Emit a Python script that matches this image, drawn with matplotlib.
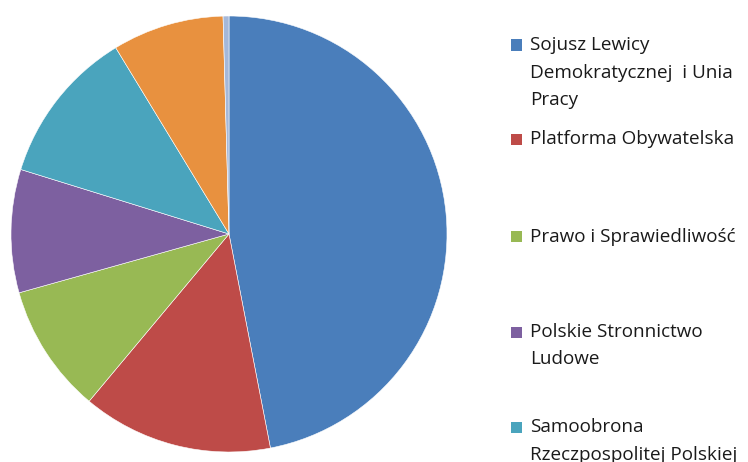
import matplotlib
matplotlib.use("Agg")
import matplotlib.pyplot as plt
from matplotlib.patches import Rectangle

# Data (seats)
parties = [
    "Sojusz Lewicy\nDemokratycznej  i Unia\nPracy",
    "Platforma Obywatelska",
    "Prawo i Sprawiedliwość",
    "Polskie Stronnictwo\nLudowe",
    "Samoobrona\nRzeczpospolitej Polskiej",
    "Liga Polskich Rodzin",
    "Mniejszość Niemiecka",
]
seats = [216, 65, 44, 42, 53, 38, 2]
colors = ["#4A7EBB", "#BE4B48", "#98B954", "#7D60A0", "#4AA4BD", "#E8913F", "#A5B8D9"]

W, H = 748, 462
fig = plt.figure(figsize=(W / 100, H / 100), dpi=100)
fig.patch.set_facecolor("white")

cx, cy, r = 229, 234, 218
ax = fig.add_axes([(cx - r) / W, (H - cy - r) / H, 2 * r / W, 2 * r / H])
ax.pie(seats, colors=colors, startangle=90, counterclock=False, radius=1,
       wedgeprops=dict(linewidth=0.4, edgecolor="white"))
ax.set_xlim(-1, 1)
ax.set_ylim(-1, 1)
ax.set_aspect("equal")
ax.axis("off")

# Legend drawn manually (Excel-style, clipped at bottom)
entry_tops = [45, 139, 237, 332, 427, 522, 617]
line_gap = 27.5
sq = 11
for lbl, col, y0 in zip(parties, colors, entry_tops):
    fig.patches.append(Rectangle((511 / W, 1 - (y0 + sq / 2) / H), sq / W, sq / H,
                                 transform=fig.transFigure, facecolor=col,
                                 edgecolor="none"))
    for i, line in enumerate(lbl.split("\n")):
        y = y0 + i * line_gap
        fig.text(530 / W, 1 - y / H, line, ha="left", va="center",
                 fontsize=13.6, family=["Open Sans", "DejaVu Sans"], color="#1a1a1a")

fig.savefig("out.png", dpi=100)
